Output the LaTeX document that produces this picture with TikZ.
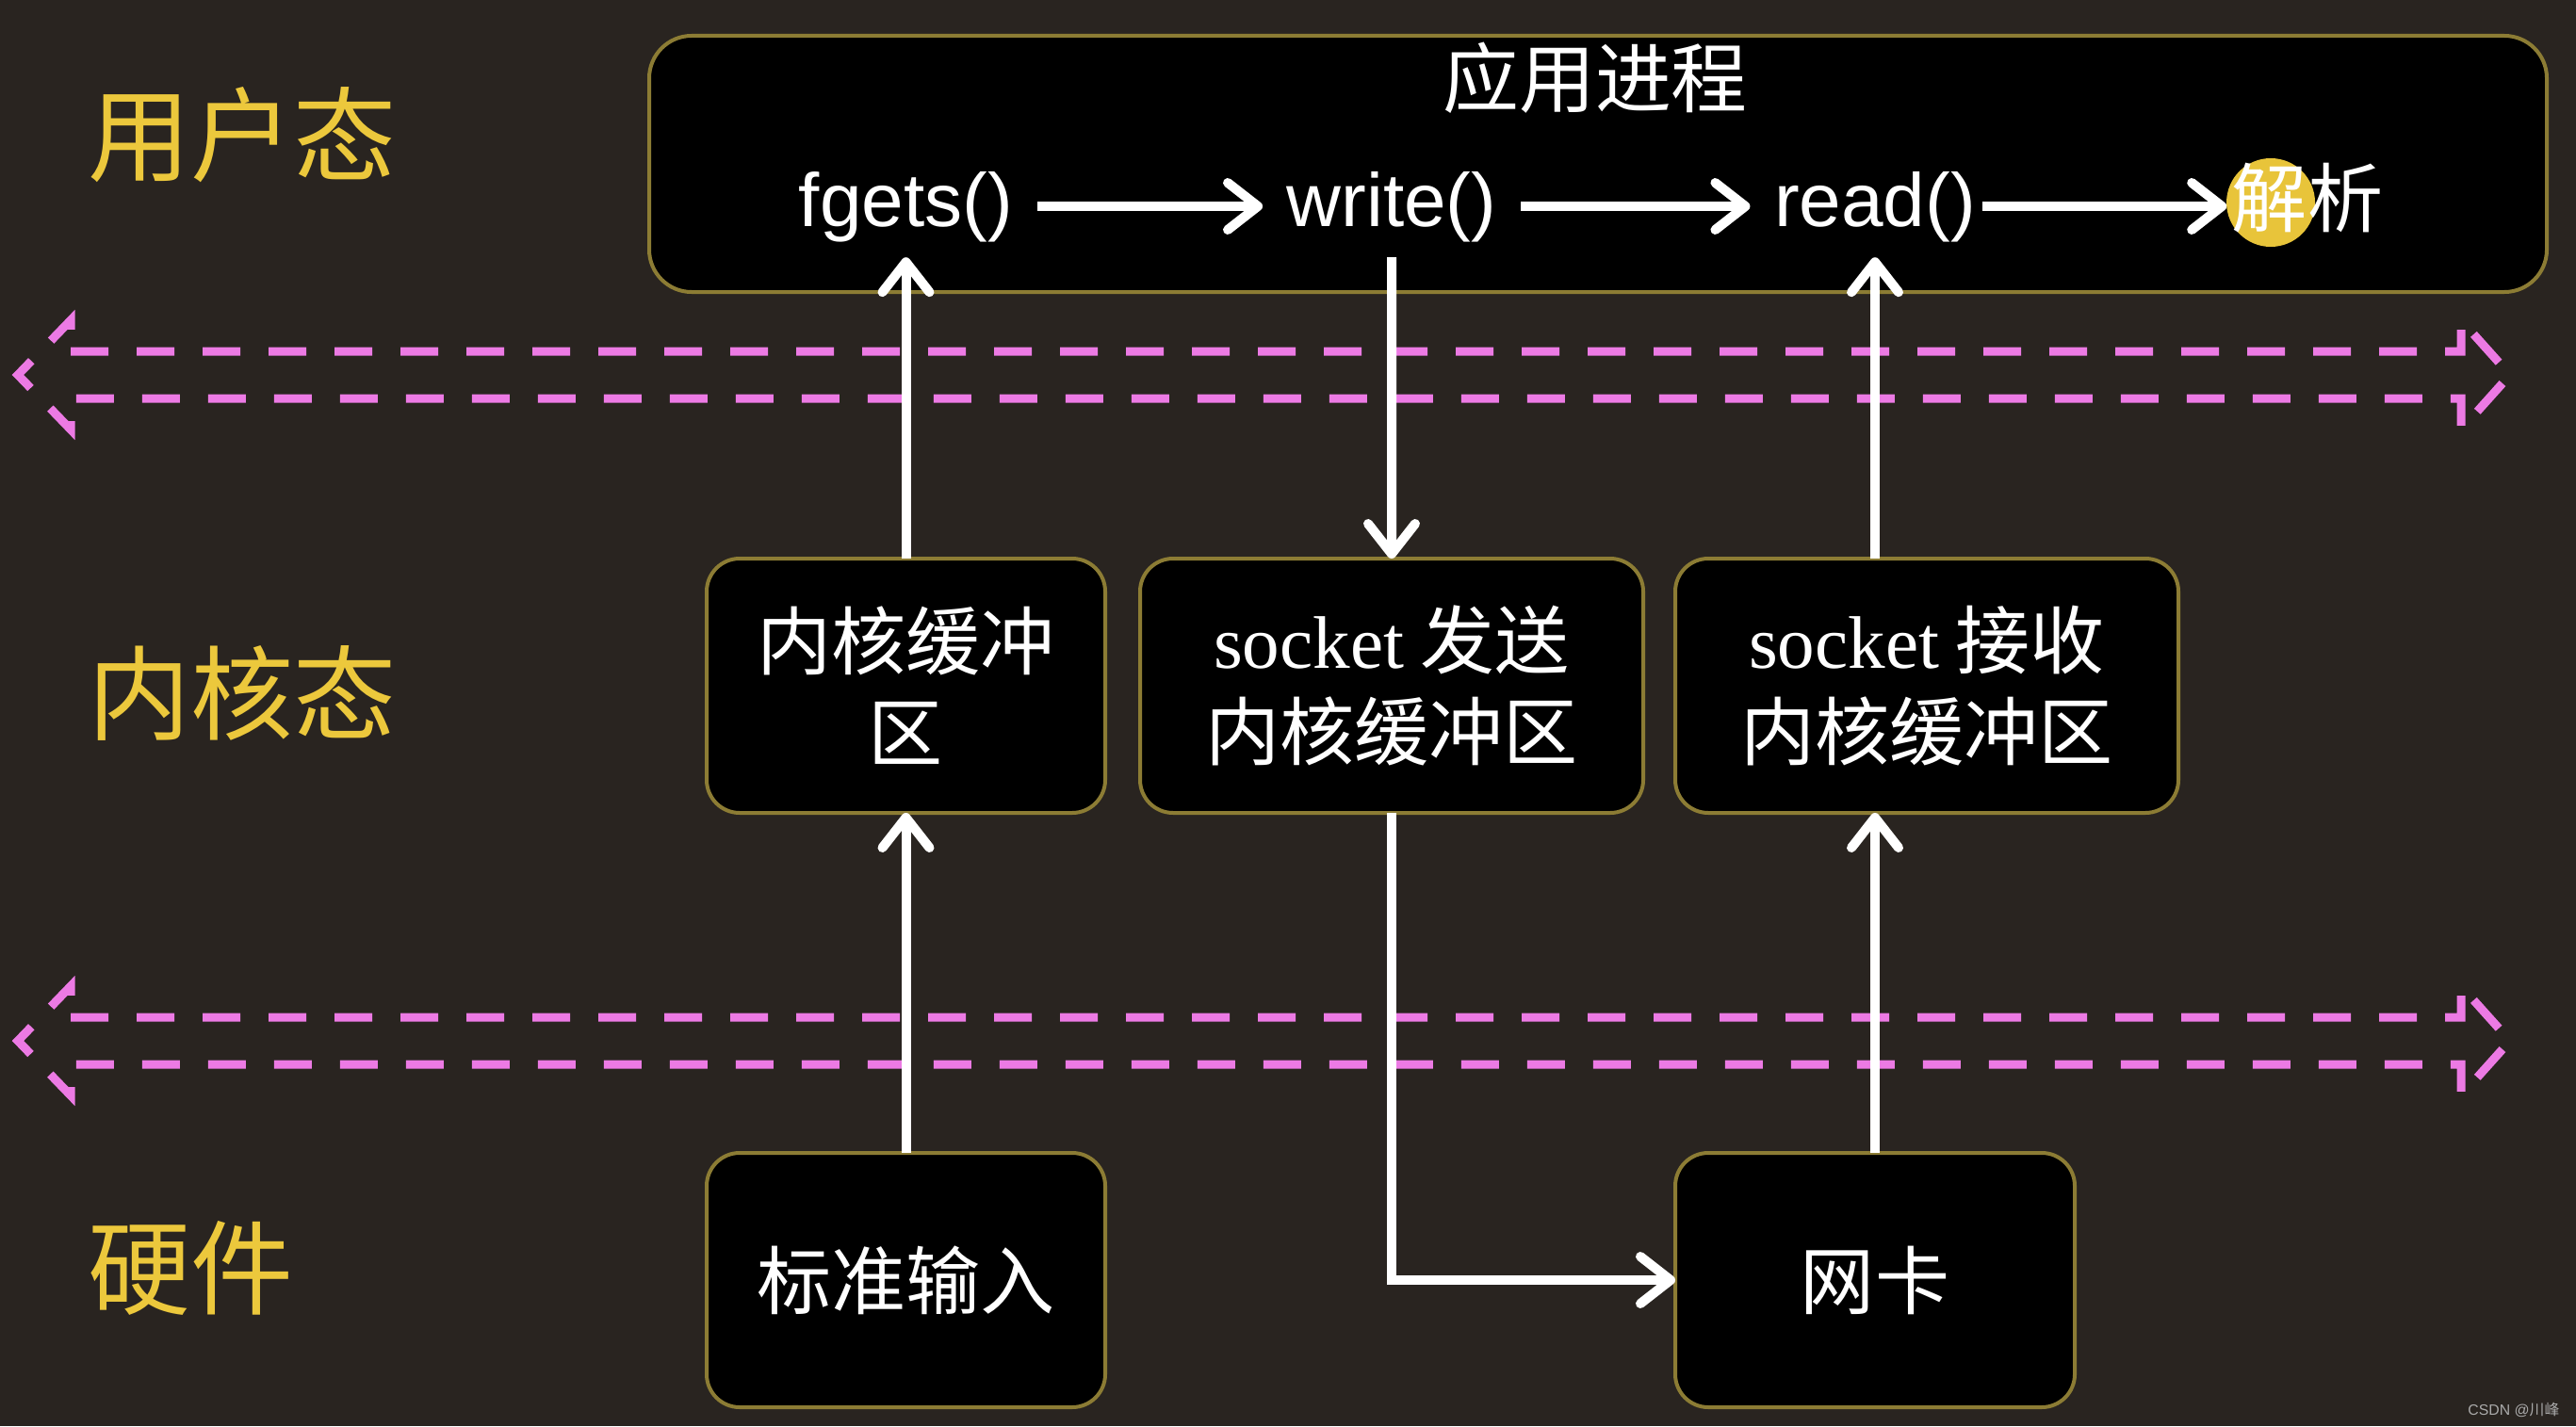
\documentclass[tikz,border=0pt]{standalone}
\usepackage{fontspec}
\usepackage{tikz}
\usepackage{xcolor}
\usetikzlibrary{positioning}
\usetikzlibrary{calc}
\usetikzlibrary{arrows.meta}
\setmainfont{Liberation Sans}
\newfontfamily\cjk{Noto Sans CJK SC}
\newfontfamily\latinserif{Liberation Serif}
\definecolor{bgcolor}{RGB}{41, 36, 32}
\definecolor{edgecolor}{RGB}{140, 124, 52}
\definecolor{layercolor}{RGB}{236, 200, 60}
\definecolor{dashcolor}{RGB}{236, 122, 228}
\definecolor{hilite}{RGB}{232, 196, 58}
\definecolor{markcolor}{RGB}{170, 170, 170}
\tikzstyle{procbox} = [
	draw=edgecolor,
	line width=0.04cm,
	fill=black,
	rounded corners=0.45cm,
	minimum width=20.14cm,
	minimum height=2.72cm,
	inner sep=0pt,
	outer sep=0pt
]
\tikzstyle{bufbox} = [
	draw=edgecolor,
	line width=0.04cm,
	fill=black,
	rounded corners=0.35cm,
	minimum height=2.70cm,
	inner sep=0pt,
	outer sep=0pt,
	align=center,
	text=white,
	font=\cjk\fontsize{22.5pt}{27.6pt}\selectfont
]
\tikzstyle{call} = [
	text=white,
	inner xsep=0.25cm,
	inner ysep=0.15cm,
	text height=0.6cm,
	text depth=0.17cm,
	font=\fontsize{22.8pt}{27pt}\selectfont
]
\tikzstyle{layer} = [
	anchor=west,
	text=layercolor,
	inner sep=0pt,
	font=\cjk\fontsize{31pt}{36pt}\selectfont
]
\tikzstyle{flow} = [
	draw=white,
	line width=0.1cm,
	-{Straight Barb[round, length=0.32cm, width=0.5cm]}
]
\tikzstyle{border} = [
	draw=dashcolor,
	line width=0.09cm,
	dash pattern=on 0.4cm off 0.3cm
]

\begin{document}
\begin{tikzpicture}

	\useasboundingbox (0,0) rectangle (27.34,15.14);
	\fill[bgcolor] (0,0) rectangle (27.34,15.14);

	%
	% Layer names
	\node[layer] (user) at (0.93, 13.71) {用户态};
	\node[layer] (kernel) at (0.93, 7.78) {内核态};
	\node[layer] (hw) at (0.93, 1.68) {硬件};

	%
	% Boundaries between layers
	\draw[border] (0.75, 11.41) -- (26.12, 11.41) -- (26.12, 11.74) -- (26.64, 11.16) -- (26.12, 10.58) -- (26.12, 10.91) -- (0.75, 10.91) -- (0.75, 10.58) -- (0.19, 11.16) -- (0.75, 11.74) -- cycle;
	\draw[border] (0.75, 4.34) -- (26.12, 4.34) -- (26.12, 4.67) -- (26.64, 4.09) -- (26.12, 3.51) -- (26.12, 3.84) -- (0.75, 3.84) -- (0.75, 3.51) -- (0.19, 4.09) -- (0.75, 4.67) -- cycle;

	%
	% Application process
	\node[procbox] (app) at (16.96, 13.40) {};
	\node[text=white, font=\cjk\fontsize{23pt}{27pt}\selectfont] (title) at (16.93, 14.31) {应用进程};
	\fill[hilite] (24.10, 12.99) circle (0.47cm);
	\node[call] (fgets) at (9.615, 12.95) {fgets()};
	\node[call] (write) at (14.77, 12.95) {write()};
	\node[call] (read) at (19.90, 12.95) {read()};
	\node[call, font=\cjk\fontsize{22.8pt}{27pt}\selectfont, inner xsep=0.05cm] (parse) at (24.49, 12.95) {解析};

	%
	% Kernel buffers
	\node[bufbox, minimum width=4.23cm] (kbuf) at (9.615, 7.86) {内核缓冲\\区};
	\node[bufbox, minimum width=5.34cm, right=0.37cm of kbuf] (sendbuf) {{\latinserif socket} 发送\\内核缓冲区};
	\node[bufbox, minimum width=5.34cm, right=0.34cm of sendbuf] (recvbuf) {{\latinserif socket} 接收\\内核缓冲区};

	%
	% Hardware
	\node[bufbox, minimum width=4.23cm, below=3.61cm of kbuf] (stdin) {标准输入};
	\node[bufbox, minimum width=4.24cm, right=6.05cm of stdin] (nic) {网卡};

	%
	% Arrows

	% inside the process
	\draw[flow] (fgets) -- (write);
	\draw[flow] (write) -- (read);
	\draw[flow, shorten <=-0.19cm] (read) -- (parse);

	% input side
	\draw[flow] (stdin) -- (kbuf);
	\draw[flow] (kbuf) -- (fgets);

	% send side
	\draw[flow] (write) -- (sendbuf);
	\draw[flow] (sendbuf) |- (nic);

	% receive side
	\draw[flow] (nic) -- (nic |- recvbuf.south);
	\draw[flow] (nic |- recvbuf.north) -- (nic |- read.south);

	\node[text=markcolor, font=\fontsize{4.5pt}{5pt}\selectfont, anchor=east, inner sep=0pt] (mark) at (27.17, 0.17) {CSDN @{\cjk 川峰}};

\end{tikzpicture}
\end{document}
